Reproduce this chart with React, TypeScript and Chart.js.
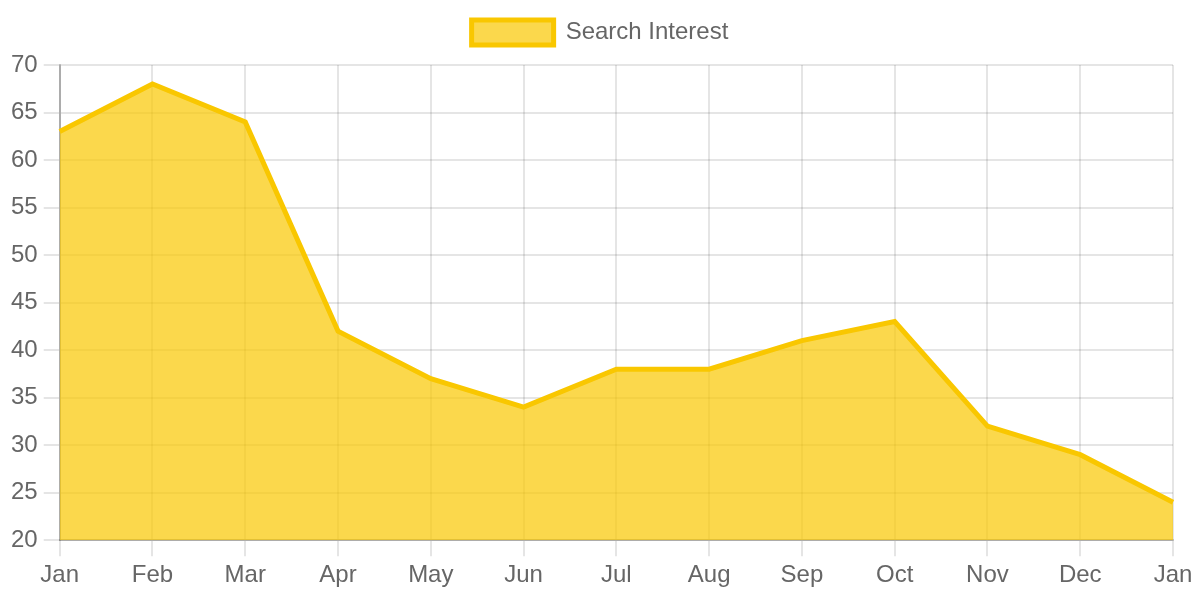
import React, { useEffect, useRef } from "react";
import { Chart, registerables } from "chart.js";

Chart.register(...registerables);

const categories = ["Jan", "Feb", "Mar", "Apr", "May", "Jun", "Jul", "Aug", "Sep", "Oct", "Nov", "Dec", "Jan"];
const searchInterest = [63, 68, 64, 42, 37, 34, 38, 38, 41, 43, 32, 29, 24];
const seriesLabel = "Search Interest";

const legendSpacing = {
  id: "legendSpacing",
  beforeInit(chart: any) {
    const legend = chart.legend;
    if (!legend) return;
    const origFit = legend.fit;
    legend.fit = function () {
      origFit.call(this);
      this.height += 10;
    };
  },
};

export default function App() {
  const ref = useRef<HTMLCanvasElement | null>(null);

  useEffect(() => {
    if (!ref.current) return;
    const font = { family: "'Liberation Sans', Arial, sans-serif", size: 24 };
    const chart = new Chart(ref.current, {
      type: "line",
      data: {
        labels: categories,
        datasets: [
          {
            label: seriesLabel,
            data: searchInterest,
            borderColor: "rgb(249,199,0)",
            backgroundColor: "rgba(249,199,0,0.7)",
            borderWidth: 5,
            fill: "start",
            tension: 0,
            pointRadius: 0,
            pointHoverRadius: 0,
          },
        ],
      },
      plugins: [legendSpacing],
      options: {
        animation: false,
        responsive: false,
        maintainAspectRatio: false,
        devicePixelRatio: 1,
        layout: { padding: { left: 0, right: 0, top: 0, bottom: 5 } },
        plugins: {
          legend: {
            display: true,
            position: "top",
            labels: {
              font,
              color: "#666",
              boxWidth: 82,
              boxHeight: 25,
              padding: 20,
            },
          },
          tooltip: { enabled: false },
        },
        scales: {
          x: {
            afterFit: (scale: any) => {
              scale.paddingRight = 27;
            },
            ticks: { font, color: "#666", padding: 5, maxRotation: 0 },
            grid: { color: "rgba(0,0,0,0.1)", lineWidth: 2, tickLength: 16 },
            border: { color: "rgba(0,0,0,0.25)", width: 2 },
          },
          y: {
            min: 20,
            max: 70,
            afterFit: (scale: any) => {
              scale.width += 5;
            },
            ticks: { font, color: "#666", stepSize: 5, padding: 6 },
            grid: { color: "rgba(0,0,0,0.1)", lineWidth: 2, tickLength: 16 },
            border: { color: "rgba(0,0,0,0.25)", width: 2 },
          },
        },
      },
    });
    return () => chart.destroy();
  }, []);

  return (
    <div style={{ position: "absolute", left: 0, top: 0, width: 1200, height: 600 }}>
      <canvas ref={ref} width={1200} height={600} style={{ width: 1200, height: 600, display: "block" }} />
    </div>
  );
}
